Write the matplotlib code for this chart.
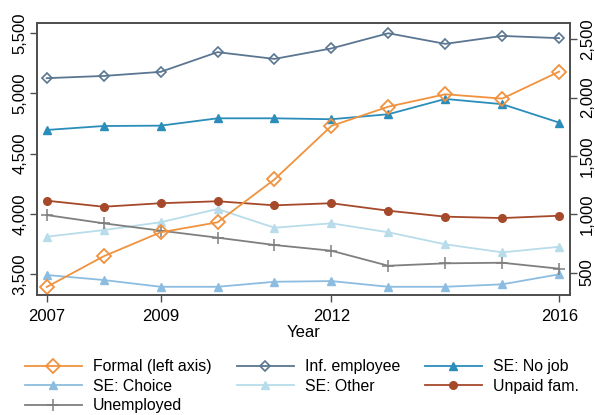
import matplotlib
matplotlib.use("Agg")
import matplotlib.pyplot as plt
from matplotlib.ticker import FuncFormatter

plt.rcParams['font.family'] = ['Liberation Sans', 'DejaVu Sans']

years = [2007, 2008, 2009, 2010, 2011, 2012, 2013, 2014, 2015, 2016]

# left axis
formal = [3393, 3648, 3847, 3930, 4286, 4730, 4890, 4993, 4957, 5181]

# right axis
inf_employee = [2166, 2185, 2220, 2389, 2331, 2421, 2551, 2460, 2528, 2509]
se_no_job = [1722, 1756, 1759, 1822, 1822, 1814, 1857, 1988, 1943, 1785]
se_choice = [479, 436, 378, 378, 421, 427, 378, 378, 399, 485]
se_other = [807, 864, 931, 1045, 884, 922, 845, 742, 673, 721]
unpaid_fam = [1116, 1064, 1094, 1111, 1076, 1094, 1030, 979, 967, 987]
unemployed = [993, 922, 859, 799, 736, 687, 558, 579, 584, 533]

x_ticks = [2007, 2009, 2012, 2016]
left_ticks = [3500, 4000, 4500, 5000, 5500]
right_ticks = [500, 1000, 1500, 2000, 2500]

c_formal = '#f0923e'
c_inf = '#5b7690'
c_nojob = '#2a8dba'
c_choice = '#8cbde0'
c_other = '#b8dcea'
c_unpaid = '#a5492a'
c_unemp = '#7f7f7f'
frame = '#4d4d4d'

fig = plt.figure(figsize=(5.95, 4.15), dpi=100)
ax = fig.add_axes([0.0622, 0.289, 0.8958, 0.6545])
ax2 = ax.twinx()

lw = 1.3
h_choice, = ax2.plot(years, se_choice, color=c_choice, lw=lw, marker='^', ms=5.5,
                     label='SE: Choice')
h_other, = ax2.plot(years, se_other, color=c_other, lw=lw, marker='^', ms=5.5,
                    label='SE: Other')
h_unemp, = ax2.plot(years, unemployed, color=c_unemp, lw=lw, marker='+', ms=8,
                    mew=1.1, label='Unemployed')
h_unpaid, = ax2.plot(years, unpaid_fam, color=c_unpaid, lw=lw, marker='o', ms=5.5,
                     label='Unpaid fam.')
h_nojob, = ax2.plot(years, se_no_job, color=c_nojob, lw=lw, marker='^', ms=5.5,
                    label='SE: No job')
h_inf, = ax2.plot(years, inf_employee, color=c_inf, lw=lw, marker='D', ms=5,
                  mfc='none', mew=1.2, label='Inf. employee')
ax2.set_zorder(1)
ax.set_zorder(2)
ax.patch.set_visible(False)
h_formal, = ax.plot(years, formal, color=c_formal, lw=lw, marker='D', ms=7,
                    mfc='none', mew=1.3, label='Formal (left axis)')

ax.set_xlim(2006.83, 2016.19)
ax.set_ylim(3326, 5581)
ax2.set_ylim(307, 2635)

fmt = FuncFormatter(lambda v, p: f'{int(v):,}')
ax.set_xticks(x_ticks)
ax.set_yticks(left_ticks)
ax2.set_yticks(right_ticks)
ax.yaxis.set_major_formatter(fmt)
ax2.yaxis.set_major_formatter(fmt)

for a in (ax, ax2):
    a.tick_params(axis='both', direction='out', length=5, width=1, color=frame,
                  labelsize=12, pad=2)
    for s in a.spines.values():
        s.set_color(frame)
        s.set_linewidth(1.2)
ax.tick_params(axis='x', pad=5)
for lab in ax.get_yticklabels():
    lab.set_rotation(90)
    lab.set_va('center')
for lab in ax2.get_yticklabels():
    lab.set_rotation(90)
    lab.set_va('center')

ax.set_xlabel('Year', fontsize=12, labelpad=1)

cols = [
    (0.042, [h_formal, h_choice, h_unemp]),
    (0.398, [h_inf, h_other]),
    (0.714, [h_nojob, h_unpaid]),
]
for xpos, hs in cols:
    fig.legend(handles=hs, loc='upper left', bbox_to_anchor=(xpos, 0.134),
               frameon=False, fontsize=11.4, handlelength=3.6, handletextpad=0.7,
               labelspacing=0.28, borderpad=0, borderaxespad=0)

fig.savefig('out.png', dpi=100)
